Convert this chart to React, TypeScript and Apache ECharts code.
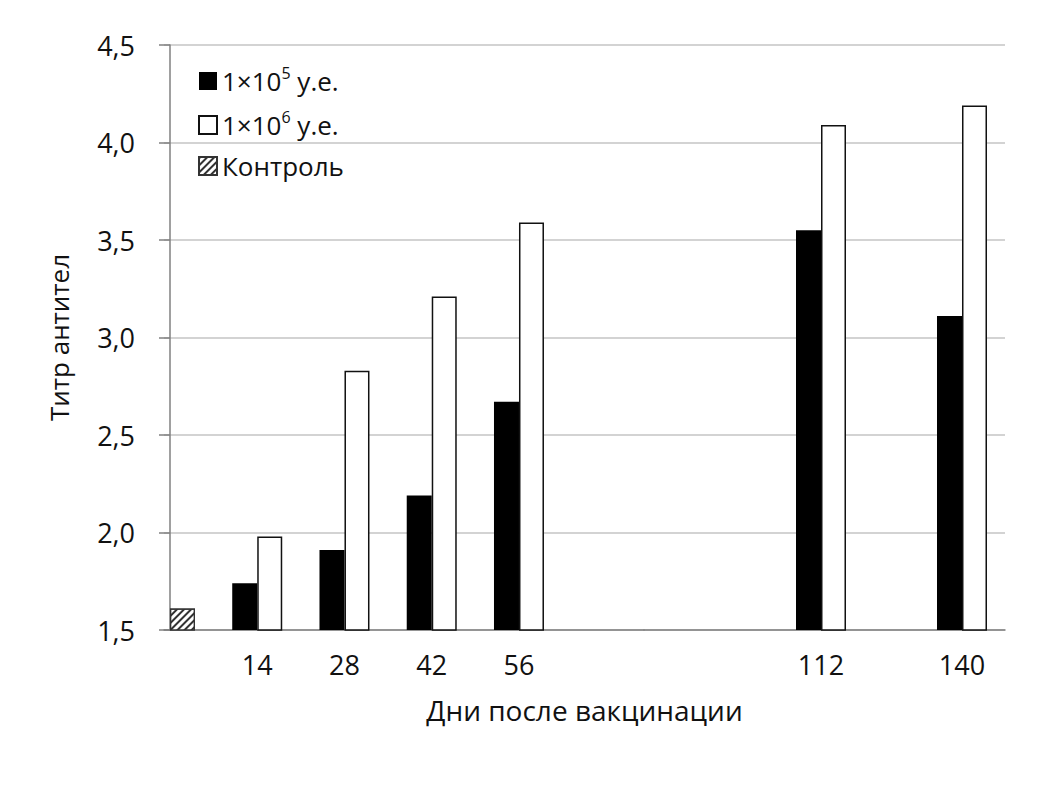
import React, { useEffect, useRef } from "react";
import * as echarts from "echarts";

// ---- data ----
const days = [14, 28, 42, 56, 112, 140];
const dose5Values = [1.74, 1.91, 2.19, 2.67, 3.55, 3.11];
const dose6Values = [1.98, 2.83, 3.21, 3.59, 4.09, 4.19];
const controlDays = [0];
const controlValues = [1.61];
const seriesNames = ["1×10^5 у.е.", "1×10^6 у.е.", "Контроль"];
const yMin = 1.5;
const yMax = 4.5;
const yStep = 0.5;
const yTitle = "Титр антител";
const xTitle = "Дни после вакцинации";

// ---- layout ----
const FONT = "'Open Sans', 'DejaVu Sans', sans-serif";
const TEXT = "#111111";
const AXIS = "#808080";
const GRID = "#c4c4c4";
const PLOT_L = 164;
const PLOT_R = 1005;
const PLOT_T = 45;
const PLOT_B = 630;
const SPLIT_X = 644;
// axis segments (days) covered by the two halves of the x axis
const seg1 = { min: -0.96, max: 76.06 };
const seg2 = { min: 76.85, max: 148.54 };

const inSeg = (d: number, s: { min: number; max: number }) => d >= s.min && d <= s.max;
const pairs = (vals: number[], s: { min: number; max: number }) =>
  days.map((d, i) => [d, vals[i]]).filter((p) => inSeg(p[0], s));

const controlStyle = {
  color: "#ffffff",
  borderColor: "#333333",
  borderWidth: 1.2,
  decal: {
    symbol: "rect",
    symbolSize: 1,
    dashArrayX: [1, 0],
    dashArrayY: [1.5, 3],
    rotation: -Math.PI / 4,
    color: "#333333",
    backgroundColor: "#ffffff",
  },
};
const whiteStyle = { color: "#ffffff", borderColor: "#111111", borderWidth: 1.5 };
const blackStyle = { color: "#000000" };

function legendLabel(name: string) {
  const m = name.match(/^(.*)\^(\d)(.*)$/);
  if (!m) return "{n|" + name + "}";
  return "{n|" + m[1] + "}{sup|" + m[2] + "}{n|" + m[3] + "}";
}

export default function App() {
  const ref = useRef<HTMLDivElement>(null);
  useEffect(() => {
    if (!ref.current) return;
    const chart = echarts.init(ref.current, null, { renderer: "svg" });
    const controlItems = controlDays.map((d, i) => ({
      value: [d, controlValues[i]],
      itemStyle: controlStyle,
    }));
    const yCommon = {
      type: "value",
      min: yMin,
      max: yMax,
      interval: yStep,
      splitLine: { show: true, lineStyle: { color: GRID, width: 1.5 } },
    };
    const xCommon = {
      type: "value",
      axisLine: { show: true, onZero: false, lineStyle: { color: AXIS, width: 1.5 } },
      axisTick: { show: false },
      splitLine: { show: false },
    };
    const xLabel = { fontSize: 27, color: TEXT, fontFamily: FONT, margin: 21 };
    const barCommon = { type: "bar", barWidth: 25, barGap: "0%" };
    chart.setOption({
      animation: false,
      backgroundColor: "#ffffff",
      textStyle: { fontFamily: FONT },
      grid: [
        { left: PLOT_L, top: PLOT_T, width: SPLIT_X - PLOT_L, height: PLOT_B - PLOT_T },
        { left: SPLIT_X, top: PLOT_T, width: PLOT_R - SPLIT_X, height: PLOT_B - PLOT_T },
      ],
      xAxis: [
        {
          ...xCommon,
          gridIndex: 0,
          min: seg1.min,
          max: seg1.max,
          axisLabel: { ...xLabel, customValues: days.filter((d) => inSeg(d, seg1)) },
        },
        {
          ...xCommon,
          gridIndex: 1,
          min: seg2.min,
          max: seg2.max,
          axisLabel: { ...xLabel, customValues: days.filter((d) => inSeg(d, seg2)) },
        },
      ],
      yAxis: [
        {
          ...yCommon,
          gridIndex: 0,
          axisLine: { show: true, lineStyle: { color: AXIS, width: 1.5 } },
          axisTick: { show: true, length: 11, lineStyle: { color: AXIS, width: 1.5 } },
          axisLabel: {
            formatter: (v: number) => v.toFixed(1).replace(".", ","),
            fontSize: 27,
            color: TEXT,
            fontFamily: FONT,
            margin: 29,
          },
          name: yTitle,
          nameLocation: "middle",
          nameGap: 92,
          nameRotate: 90,
          nameTextStyle: { fontSize: 26, color: TEXT, fontFamily: FONT },
        },
        {
          ...yCommon,
          gridIndex: 1,
          axisLine: { show: false },
          axisTick: { show: false },
          axisLabel: { show: false },
        },
      ],
      legend: {
        orient: "vertical",
        left: 193,
        top: 60,
        icon: "rect",
        itemWidth: 18,
        itemHeight: 18,
        itemGap: 15,
        data: seriesNames,
        formatter: legendLabel,
        textStyle: {
          color: TEXT,
          fontFamily: FONT,
          rich: {
            n: { fontSize: 26, lineHeight: 32, color: TEXT, fontFamily: FONT },
            sup: { fontSize: 16, lineHeight: 16, verticalAlign: "top", color: TEXT, fontFamily: FONT },
          },
        },
      },
      graphic: [
        {
          type: "text",
          x: (PLOT_L + PLOT_R) / 2,
          y: 710,
          style: {
            text: xTitle,
            fontSize: 28,
            fontFamily: FONT,
            fill: TEXT,
            align: "center",
            verticalAlign: "middle",
          },
        },
      ],
      series: [
        { ...barCommon, name: seriesNames[0], xAxisIndex: 0, yAxisIndex: 0, itemStyle: blackStyle, data: pairs(dose5Values, seg1) },
        {
          ...barCommon,
          name: seriesNames[1],
          xAxisIndex: 0,
          yAxisIndex: 0,
          stack: "w",
          itemStyle: whiteStyle,
          data: [...controlItems, ...pairs(dose6Values, seg1)],
        },
        { ...barCommon, name: seriesNames[2], xAxisIndex: 0, yAxisIndex: 0, stack: "w", itemStyle: controlStyle, data: [] },
        { ...barCommon, name: seriesNames[0], xAxisIndex: 1, yAxisIndex: 1, itemStyle: blackStyle, data: pairs(dose5Values, seg2) },
        { ...barCommon, name: seriesNames[1], xAxisIndex: 1, yAxisIndex: 1, itemStyle: whiteStyle, data: pairs(dose6Values, seg2) },
      ],
    });
    return () => chart.dispose();
  }, []);
  return (
    <div
      ref={ref}
      style={{ position: "absolute", left: 0, top: 0, width: 1062, height: 788, background: "#fff" }}
    />
  );
}
